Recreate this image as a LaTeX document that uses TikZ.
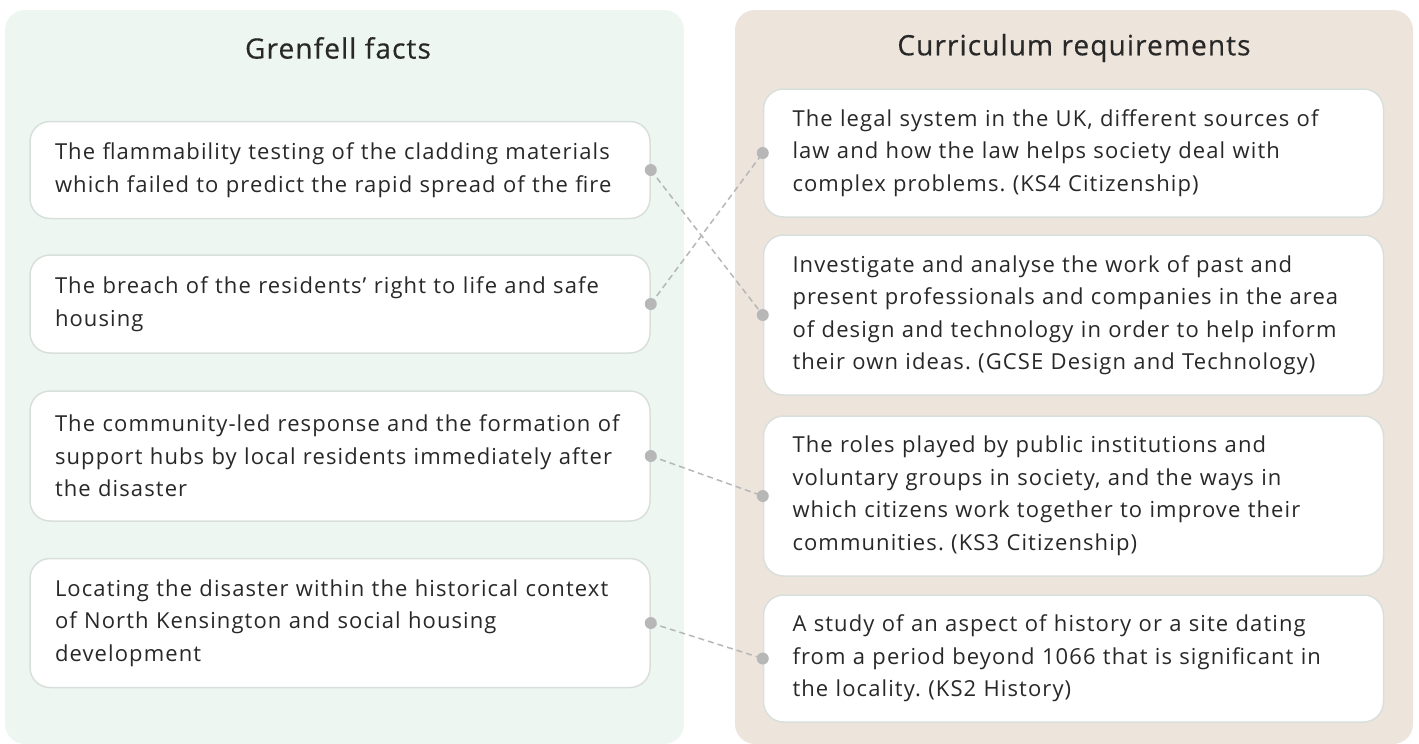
\documentclass[tikz,border=0pt]{standalone}
\usepackage{fontspec}
\setmainfont{Open Sans}[LetterSpace=5]
\newfontfamily\headfont{Open Sans}[LetterSpace=4,FakeBold=0.45]
\frenchspacing
\definecolor{factbg}{RGB}{237,246,241}
\definecolor{currbg}{RGB}{237,228,219}
\definecolor{boxline}{RGB}{217,224,220}
\definecolor{linkgray}{RGB}{183,183,183}
\definecolor{inkgray}{RGB}{40,40,40}
\tikzset{every picture/.style={line width=0.75pt}}
\tikzset{
  panel/.style={fill=#1,draw=none,rounded corners=20},
  itembox/.style={draw=boxline,line width=1.5,fill=white,rounded corners=20,
    minimum width=620,inner xsep=15,text width=590,align=left,text=inkgray,
    font=\fontsize{22}{32.5}\selectfont,
    execute at begin node={\leftskip=#1pt\relax}},
  itembox/.default=10,
  heading/.style={text=inkgray,font=\headfont\fontsize{28}{32}\selectfont},
  link/.style={draw=linkgray,line width=1.5,dash pattern=on 6 off 4},
  linkdot/.style={fill=linkgray}
}
\begin{document}
\begin{tikzpicture}[x=1pt,y=1pt,yscale=-1]
\useasboundingbox (0,0) rectangle (1419,744);

%Shape: Panels
\fill [panel=factbg] (5,10) rectangle (684,744);
\fill [panel=currbg] (735,10) rectangle (1413,744);

% Text Node
\node [heading] (factshead) at (338,48) {Grenfell facts};
% Text Node
\node [heading] (currhead) at (1074,48) {Curriculum requirements};

%Shape: Fact boxes
\node [itembox,minimum height=97] (fact1) at (340,170) {The flammability testing of the cladding materials\\which failed to predict the rapid spread of the fire};
\node [itembox,minimum height=98] (fact2) at (340,304) {The breach of the residents’ right to life and safe\\housing};
\node [itembox,minimum height=130] (fact3) at (340,456) {The community-led response and the formation of\\support hubs by local residents immediately after\\the disaster};
\node [itembox,minimum height=129] (fact4) at (340,623) {Locating the disaster within the historical context\\of North Kensington and social housing\\development};

%Shape: Curriculum boxes
\node [itembox=14,minimum height=128] (curr1) at (1073.5,153) {The legal system in the UK, different sources of\\law and how the law helps society deal with\\complex problems. (KS4 Citizenship)};
\node [itembox=14,minimum height=160] (curr2) at (1073.5,315) {Investigate and analyse the work of past and\\present professionals and companies in the area\\of design and technology in order to help inform\\their own ideas. (GCSE Design and Technology)};
\node [itembox=14,minimum height=160] (curr3) at (1073.5,496) {The roles played by public institutions and\\voluntary groups in society, and the ways in\\which citizens work together to improve their\\communities. (KS3 Citizenship)};
\node [itembox=14,minimum height=127] (curr4) at (1073.5,658.5) {A study of an aspect of history or a site dating\\from a period beyond 1066 that is significant in\\the locality. (KS2 History)};

%Straight Lines
\draw [link] (fact1.east) -- (curr2.west);
\draw [link] (fact2.east) -- (curr1.west);
\draw [link] (fact3.east) -- (curr3.west);
\draw [link] (fact4.east) -- (curr4.west);

%Shape: Dots
\foreach \n in {fact1,fact2,fact3,fact4}
  \fill [linkdot] (\n.east) circle (6);
\foreach \n in {curr1,curr2,curr3,curr4}
  \fill [linkdot] (\n.west) circle (6);

\end{tikzpicture}
\end{document}
